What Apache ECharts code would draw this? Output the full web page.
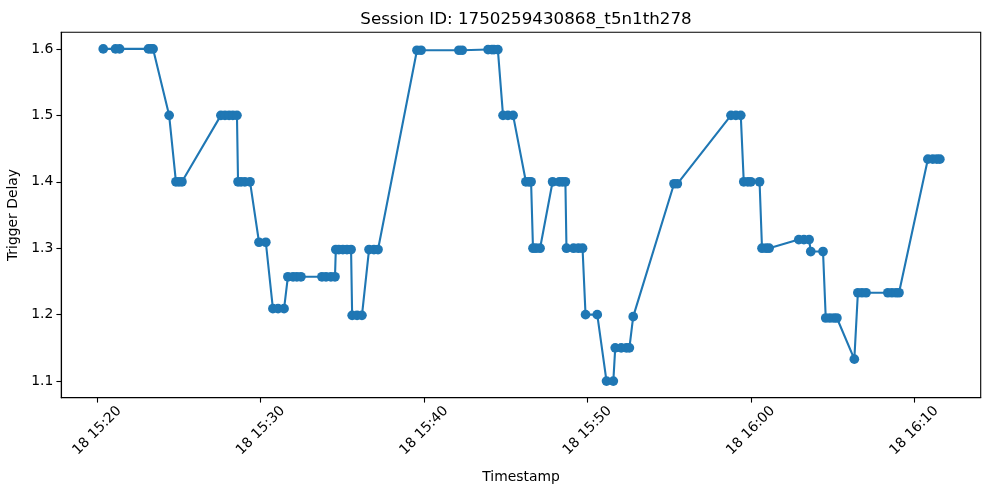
<!DOCTYPE html>
<html>
<head>
<meta charset="utf-8">
<script src="https://cdn.jsdelivr.net/npm/echarts@6/dist/echarts.min.js"></script>
<style>
html,body{margin:0;padding:0;background:#fff;}
#chart{width:990px;height:490px;}
</style>
</head>
<body>
<div id="chart"></div>
<script>
const titleText = "Session ID: 1750259430868_t5n1th278";
const datePrefix = "18";
const timestamps = [
  "15:20:22","15:21:07","15:21:22","15:23:08","15:23:17","15:23:25",
  "15:24:24",
  "15:24:49","15:25:00","15:25:11",
  "15:27:34","15:27:49","15:28:04","15:28:18","15:28:33",
  "15:28:37","15:28:48","15:29:02","15:29:21",
  "15:29:54","15:30:19",
  "15:30:45","15:31:04","15:31:26",
  "15:31:40","15:31:59","15:32:13","15:32:28","15:33:45","15:34:00","15:34:18","15:34:33",
  "15:34:36","15:34:47","15:35:02","15:35:17","15:35:32",
  "15:35:36","15:35:54","15:36:12",
  "15:36:38","15:36:56","15:37:11",
  "15:39:34","15:39:49","15:42:08","15:42:20","15:43:55","15:44:09","15:44:17","15:44:31",
  "15:44:50","15:45:08","15:45:27",
  "15:46:14","15:46:25","15:46:33",
  "15:46:40","15:46:51","15:47:06",
  "15:47:52","15:48:17","15:48:28","15:48:39",
  "15:48:43","15:49:09","15:49:27","15:49:42",
  "15:49:53","15:50:36",
  "15:51:10","15:51:35",
  "15:51:42","15:52:04","15:52:23","15:52:34",
  "15:52:48",
  "15:55:18","15:55:30",
  "15:58:47","15:59:05","15:59:23",
  "15:59:34","15:59:49","16:00:00","16:00:32",
  "16:00:41","16:00:56","16:01:07",
  "16:02:56","16:03:15","16:03:34",
  "16:03:40","16:04:25",
  "16:04:35","16:04:50","16:05:05","16:05:16",
  "16:06:20",
  "16:06:33","16:06:48","16:07:03","16:08:23","16:08:38","16:08:53","16:09:04",
  "16:10:50","16:11:08","16:11:23","16:11:34"
];
const triggerDelay = [
  1.6,1.6,1.6,1.6,1.6,1.6,
  1.5,
  1.4,1.4,1.4,
  1.5,1.5,1.5,1.5,1.5,
  1.4,1.4,1.4,1.4,
  1.309,1.309,
  1.209,1.209,1.209,
  1.257,1.257,1.257,1.257,1.257,1.257,1.257,1.257,
  1.298,1.298,1.298,1.298,1.298,
  1.199,1.199,1.199,
  1.298,1.298,1.298,
  1.598,1.598,1.598,1.598,1.599,1.599,1.599,1.599,
  1.5,1.5,1.5,
  1.4,1.4,1.4,
  1.3,1.3,1.3,
  1.4,1.4,1.4,1.4,
  1.3,1.3,1.3,1.3,
  1.2,1.2,
  1.1,1.1,
  1.15,1.15,1.15,1.15,
  1.197,
  1.397,1.397,
  1.5,1.5,1.5,
  1.4,1.4,1.4,1.4,
  1.3,1.3,1.3,
  1.313,1.313,1.313,
  1.295,1.295,
  1.195,1.195,1.195,1.195,
  1.133,
  1.233,1.233,1.233,1.233,1.233,1.233,1.233,
  1.434,1.434,1.434,1.434
];
const xTickLabels = ["15:20","15:30","15:40","15:50","16:00","16:10"];
const yTickValues = [1.1,1.2,1.3,1.4,1.5,1.6];

function toSec(s){const p=s.split(":").map(Number);return p[0]*3600+p[1]*60+(p[2]||0);}
const xTickValues = xTickLabels.map(toSec);
const seriesData = timestamps.map((t,i)=>[toSec(t),triggerDelay[i]]);
function fmtX(v){
  const h=Math.floor(v/3600), m=Math.round((v-h*3600)/60);
  return datePrefix+" "+String(h).padStart(2,"0")+":"+String(m).padStart(2,"0");
}
const FONT = "DejaVu Sans";
const chart = echarts.init(document.getElementById("chart"),null,{renderer:"canvas"});
chart.setOption({
  animation:false,
  backgroundColor:"#ffffff",
  title:{text:titleText,left:521,top:6,textAlign:"center",
    textStyle:{fontFamily:FONT,fontSize:16.7,fontWeight:"normal",color:"#000"}},
  grid:{left:61.3,top:32.3,right:9.3,bottom:92.3,containLabel:false,outerBoundsMode:"none",
    show:true,borderColor:"#000",borderWidth:1.1,backgroundColor:"transparent"},
  xAxis:{type:"value",min:toSec("15:17:48"),max:toSec("16:14:04"),
    name:"Timestamp",nameLocation:"middle",nameGap:73,
    nameTextStyle:{fontFamily:FONT,fontSize:13.9,color:"#000"},
    axisLine:{show:true,onZero:false,lineStyle:{color:"#000",width:1.1}},
    axisTick:{show:true,length:4.9,lineStyle:{color:"#000",width:1.1},customValues:xTickValues},
    axisLabel:{customValues:xTickValues,formatter:fmtX,rotate:45,align:"center",verticalAlign:"middle",
      margin:33,fontFamily:FONT,fontSize:13.9,color:"#000"},
    splitLine:{show:false}},
  yAxis:{type:"value",min:1.075,max:1.625,
    name:"Trigger Delay",nameLocation:"middle",nameGap:38,
    nameTextStyle:{fontFamily:FONT,fontSize:13.9,color:"#000"},
    axisLine:{show:true,onZero:false,lineStyle:{color:"#000",width:1.1}},
    axisTick:{show:true,length:4.9,lineStyle:{color:"#000",width:1.1},customValues:yTickValues},
    axisLabel:{customValues:yTickValues,formatter:v=>v.toFixed(1),margin:8,
      fontFamily:FONT,fontSize:13.9,color:"#000"},
    splitLine:{show:false}},
  series:[{type:"line",data:seriesData,symbol:"circle",symbolSize:9.7,showAllSymbol:true,
    lineStyle:{color:"#1f77b4",width:2.1},itemStyle:{color:"#1f77b4",borderWidth:0},
    clip:false}]
});
</script>
</body>
</html>
